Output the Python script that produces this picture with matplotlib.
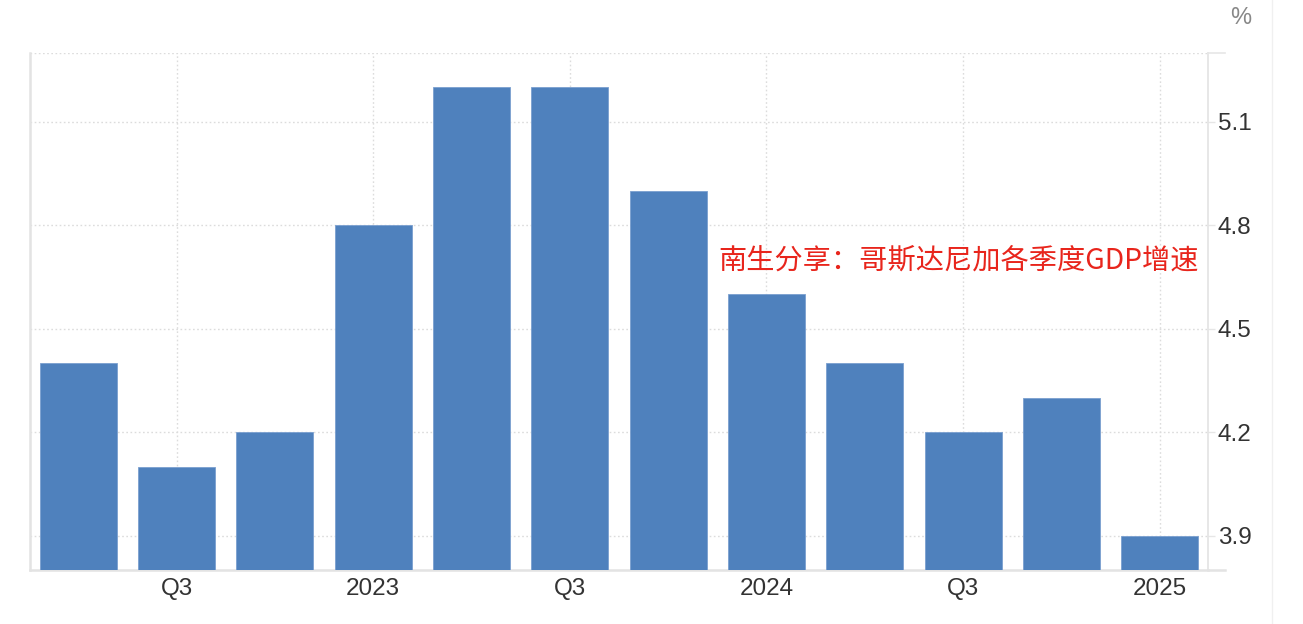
import matplotlib
matplotlib.use("Agg")
import matplotlib.pyplot as plt
from matplotlib.lines import Line2D
import numpy as np

quarters = ["2022 Q2", "2022 Q3", "2022 Q4", "2023 Q1", "2023 Q2", "2023 Q3",
            "2023 Q4", "2024 Q1", "2024 Q2", "2024 Q3", "2024 Q4", "2025 Q1"]
gdp_growth = [4.4, 4.1, 4.2, 4.8, 5.2, 5.2, 4.9, 4.6, 4.4, 4.2, 4.3, 3.9]
xtick_idx = [1, 3, 5, 7, 9, 11]
xtick_labels = ["Q3", "2023", "Q3", "2024", "Q3", "2025"]
ytick_vals = [3.9, 4.2, 4.5, 4.8, 5.1]
ytick_labels = ["3.9", "4.2", "4.5", "4.8", "5.1"]
title_text = "南生分享：哥斯达尼加各季度GDP增速"
unit_text = "%"

YMIN, YMAX = 3.8, 5.3
W, H = 1303, 624

plt.rcParams['font.family'] = ['Liberation Sans', 'DejaVu Sans']
fig = plt.figure(figsize=(W / 100, H / 100), dpi=100)
fig.patch.set_facecolor("white")
ax = fig.add_axes([30 / W, 1 - 570 / H, (1208 - 30) / W, (570 - 53) / H])

x = np.arange(len(quarters))
ax.bar(x, np.array(gdp_growth) - YMIN, bottom=YMIN, width=0.785,
       color="#4f81bd", edgecolor="#7a9fcf", linewidth=0.6, zorder=3)

ax.set_xlim(-0.49, len(quarters) - 0.51)
ax.set_ylim(YMIN, YMAX)

grid_c = "#dcdcdc"
for yv in ytick_vals + [YMAX]:
    ax.axhline(yv, color=grid_c, linestyle=(0, (1.2, 1.8)), linewidth=1.0, zorder=1)
for xi in xtick_idx:
    ax.axvline(xi, color=grid_c, linestyle=(0, (1.2, 1.8)), linewidth=1.0, zorder=1)

ax.set_xticks(x[xtick_idx])
ax.set_xticklabels(xtick_labels)
ax.yaxis.tick_right()
ax.set_yticks(ytick_vals)
ax.set_yticklabels(ytick_labels)
ax.tick_params(axis="x", length=0, pad=6, labelsize=17.5, labelcolor="#333333")
ax.tick_params(axis="y", length=5, width=1, color="#e6e6e6", pad=2,
               labelsize=17.5, labelcolor="#333333")

for side in ["left", "right", "bottom"]:
    ax.spines[side].set_color("#e3e3e3")
ax.spines["left"].set_linewidth(1.8)
ax.spines["right"].set_linewidth(1.2)
ax.spines["bottom"].set_linewidth(1.8)
ax.spines["top"].set_visible(False)

# short extensions beyond the right axis at top and bottom
fig.add_artist(Line2D([1208 / W, 1225 / W], [1 - 53 / H, 1 - 53 / H],
                      color="#e6e6e6", linewidth=1.2))
fig.add_artist(Line2D([1208 / W, 1225 / W], [1 - 570 / H, 1 - 570 / H],
                      color="#e3e3e3", linewidth=1.8))
# faint page border at the right
fig.add_artist(Line2D([1272 / W, 1272 / W], [0, 1], color="#f0f0f0", linewidth=1.0))

fig.text(1241 / W, 1 - 18 / H, unit_text, ha="center", va="center",
         fontsize=17, color="#888888")

ax.text(1199 / W, 1 - 261 / H, title_text, transform=fig.transFigure,
        ha="right", va="center", fontsize=20.3, color="#e8251c",
        family=["Noto Sans CJK SC", "DejaVu Sans"], zorder=5)

fig.savefig("out.png", dpi=100, facecolor="white")
